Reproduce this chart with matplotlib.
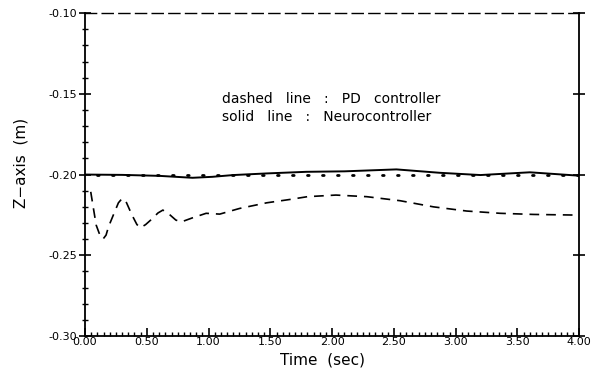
import matplotlib
matplotlib.use("Agg")
import matplotlib.pyplot as plt
from matplotlib.ticker import MultipleLocator, FormatStrFormatter

plt.rcParams['lines.scale_dashes'] = False

# PD controller (dashed)
t_pd = [0.046, 0.07, 0.09, 0.12, 0.146, 0.17, 0.19, 0.24, 0.27, 0.30, 0.33, 0.38, 0.42, 0.45, 0.49,
        0.54, 0.59, 0.63, 0.68, 0.735, 0.78, 0.87, 0.98, 1.09, 1.25, 1.47, 1.66, 1.80, 2.03, 2.28,
        2.55, 2.82, 3.09, 3.36, 3.63, 3.98]
z_pd = [-0.2107, -0.222, -0.2313, -0.2375, -0.2399, -0.2375, -0.2323, -0.2230, -0.2175, -0.2148,
        -0.2165, -0.2251, -0.2310, -0.2329, -0.2310, -0.2276, -0.2238, -0.2220, -0.2245, -0.2282,
        -0.2293, -0.2268, -0.2240, -0.2245, -0.2210, -0.2175, -0.2154, -0.2137, -0.2127, -0.2137,
        -0.2162, -0.2200, -0.2226, -0.2240, -0.2247, -0.2251]

# Neurocontroller (solid)
t_nc = [0.0, 0.3, 0.6, 0.87, 1.03, 1.2, 1.47, 1.79, 2.1, 2.52, 2.87, 3.2, 3.6, 4.0]
z_nc = [-0.2000, -0.2002, -0.2008, -0.2020, -0.2014, -0.2003, -0.1993, -0.1983, -0.1980, -0.1968,
        -0.1989, -0.2003, -0.1986, -0.2007]

# Desired trajectory (dotted)
t_ref = [0.1, 4.0]
z_ref = [-0.20, -0.20]

xticks = [0.0, 0.5, 1.0, 1.5, 2.0, 2.5, 3.0, 3.5, 4.0]
yticks = [-0.30, -0.25, -0.20, -0.15, -0.10]

fig = plt.figure(figsize=(5.99, 3.75), dpi=100)
ax = fig.add_axes([0.142, 0.104, 0.825, 0.861])

ax.plot(t_pd, z_pd, color='black', lw=1.2, linestyle=(0, (7, 5)))
ax.plot(t_nc, z_nc, color='black', lw=1.4)
ax.plot(t_ref, z_ref, color='black', lw=2.0, linestyle=(0, (1.2, 9.6)), dash_capstyle='round')

ax.set_xlim(0, 4)
ax.set_ylim(-0.30, -0.10)
ax.set_xticks(xticks)
ax.set_yticks(yticks)
ax.xaxis.set_minor_locator(MultipleLocator(0.05))
ax.yaxis.set_minor_locator(MultipleLocator(0.01))
ax.xaxis.set_major_formatter(FormatStrFormatter('%.2f'))
ax.yaxis.set_major_formatter(FormatStrFormatter('%.2f'))
ax.tick_params(axis='x', which='major', direction='in', length=6, width=1.2, labelsize=8, pad=1)
ax.tick_params(axis='x', which='minor', direction='in', length=3, width=1)
ax.tick_params(axis='y', which='major', direction='inout', length=8, width=1.2, labelsize=8, pad=2,
               right=True)
ax.tick_params(axis='y', which='minor', direction='inout', length=5, width=1)
ax.spines['top'].set_linestyle((0, (8, 4)))
ax.spines['top'].set_linewidth(1.0)
for s in ['left', 'bottom', 'right']:
    ax.spines[s].set_linewidth(1.3)

ax.set_xlabel('Time  (sec)', fontsize=11, labelpad=0)
ax.xaxis.set_label_coords(0.48, -0.05, transform=ax.transAxes)
ax.xaxis.label.set_va('top')
ax.set_ylabel('Z\u2212axis  (m)', fontsize=11)
ax.yaxis.set_label_coords(-0.115, 0.535)

ax.text(1.11, -0.153, 'dashed   line   :   PD   controller', fontsize=10, va='center', ha='left')
ax.text(1.11, -0.1644, 'solid   line   :   Neurocontroller', fontsize=10, va='center', ha='left')

fig.savefig('out.png', dpi=100)
